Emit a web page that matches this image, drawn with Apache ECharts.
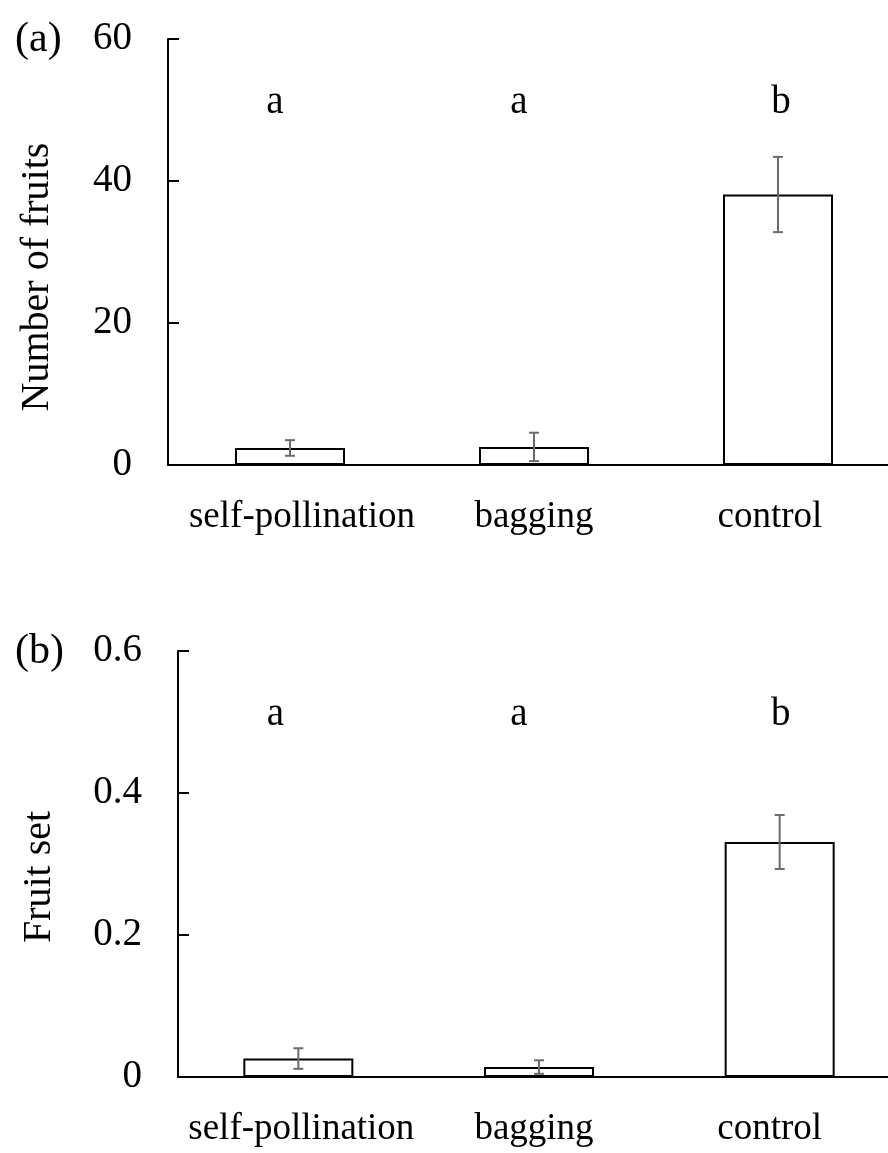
<!DOCTYPE html>
<html>
<head>
<meta charset="utf-8">
<script src="https://cdn.jsdelivr.net/npm/echarts@6/dist/echarts.min.js"></script>
<style>
  html, body { margin: 0; padding: 0; background: #fff; overflow: hidden; }
  /* the plot runs a little past the right edge of the page, as in the original crop */
  #chart { width: 900px; height: 1153px; }
</style>
</head>
<body>
<div id="chart"></div>
<script type="text/javascript">
    // data
    var categories = ['self-pollination', 'bagging', 'control'];
    var fruitsMean = [2.4, 2.55, 38.1];
    var fruitsErr = [1.1, 2.0, 5.3];
    var fruitSetMean = [0.026, 0.014, 0.331];
    var fruitSetErr = [0.0145, 0.0095, 0.038];
    var letters = ['a', 'a', 'b'];
    var fruitsTicks = [0, 20, 40, 60];
    var fruitSetTicks = [0, 0.2, 0.4, 0.6];
    var letterLevel = [51, 0.51];   // height of the a/b letters in each panel

    // small horizontal nudges (px) so texts sit where the original put them
    var labelShift = [[12, 0, -8], [3, -5, -10]];
    var letterShift = [[-15, -15, 3], [-23, -20, 1]];

    var FONT = "'Liberation Serif', 'Times New Roman', serif";
    var chart = echarts.init(document.getElementById('chart'));

    function catData(shift) {
        return categories.map(function (c, i) {
            var s = shift[i];
            return {
                value: c,
                textStyle: { padding: s >= 0 ? [0, 0, 0, 2 * s] : [0, -2 * s, 0, 0] }
            };
        });
    }

    function errorBars(mean, err, gridIdx) {
        return {
            type: 'custom',
            xAxisIndex: gridIdx,
            yAxisIndex: gridIdx,
            z: 5,
            renderItem: function (params, api) {
                var x = api.value(0), m = api.value(1), e = api.value(2);
                var top = api.coord([x, m + e]);
                var bot = api.coord([x, m - e]);
                var hw = 5;
                var st = { stroke: '#6b6b6b', lineWidth: 2 };
                return {
                    type: 'group',
                    children: [
                        { type: 'line', shape: { x1: top[0], y1: top[1], x2: bot[0], y2: bot[1] }, style: st },
                        { type: 'line', shape: { x1: top[0] - hw, y1: top[1], x2: top[0] + hw, y2: top[1] }, style: st },
                        { type: 'line', shape: { x1: bot[0] - hw, y1: bot[1], x2: bot[0] + hw, y2: bot[1] }, style: st }
                    ]
                };
            },
            data: mean.map(function (m, i) { return [i, m, err[i]]; })
        };
    }

    function letterSeries(gridIdx) {
        return {
            type: 'scatter',
            xAxisIndex: gridIdx,
            yAxisIndex: gridIdx,
            symbolSize: 0,
            silent: true,
            itemStyle: { opacity: 1 },
            data: letters.map(function (l, i) {
                return {
                    value: [i, letterLevel[gridIdx]],
                    label: {
                        show: true,
                        position: 'inside',
                        formatter: l,
                        offset: [letterShift[gridIdx][i], 0],
                        color: '#000',
                        fontFamily: FONT,
                        fontSize: 39
                    }
                };
            })
        };
    }

    function yAxisOf(ticks, name, gridIdx, namePad, gap) {
        return {
            type: 'value',
            gridIndex: gridIdx,
            min: ticks[0],
            max: ticks[ticks.length - 1],
            interval: ticks[1] - ticks[0],
            name: name,
            nameLocation: 'middle',
            nameGap: gap,
            nameTextStyle: { color: '#000', fontFamily: FONT, fontSize: 40, padding: [0, namePad, 0, 0] },
            axisLine: { show: true, lineStyle: { color: '#000', width: 2 } },
            axisTick: { show: true, inside: true, length: 11, lineStyle: { color: '#000', width: 2 } },
            axisLabel: { color: '#000', fontFamily: FONT, fontSize: 39, margin: 36 },
            splitLine: { show: false }
        };
    }

    function xAxisOf(gridIdx) {
        return {
            type: 'category',
            gridIndex: gridIdx,
            data: catData(labelShift[gridIdx]),
            axisLine: { show: true, lineStyle: { color: '#000', width: 2 } },
            axisTick: { show: false },
            axisLabel: { color: '#000', fontFamily: FONT, fontSize: 37, margin: 34, interval: 0 }
        };
    }

    function barSeries(mean, gridIdx) {
        return {
            type: 'bar',
            xAxisIndex: gridIdx,
            yAxisIndex: gridIdx,
            barWidth: 110,
            itemStyle: { color: '#fff', borderColor: '#000', borderWidth: 2 },
            data: mean
        };
    }

    var option = {
        backgroundColor: '#fff',
        animation: false,
        title: [
            { text: '(a)', left: 10, top: 14, textStyle: { color: '#000', fontFamily: FONT, fontSize: 42, fontWeight: 'normal' } },
            { text: '(b)', left: 10, top: 626, textStyle: { color: '#000', fontFamily: FONT, fontSize: 42, fontWeight: 'normal' } }
        ],
        grid: [
            { left: 168, top: 39, right: 0, height: 426 },
            { left: 178, top: 651, right: 0, height: 426 }
        ],
        xAxis: [xAxisOf(0), xAxisOf(1)],
        yAxis: [
            yAxisOf(fruitsTicks, 'Number of fruits', 0, 50, 111),
            yAxisOf(fruitSetTicks, 'Fruit set', 1, 26, 119)
        ],
        series: [
            barSeries(fruitsMean, 0),
            errorBars(fruitsMean, fruitsErr, 0),
            letterSeries(0),
            barSeries(fruitSetMean, 1),
            errorBars(fruitSetMean, fruitSetErr, 1),
            letterSeries(1)
        ]
    };

    chart.setOption(option);
</script>
</body>
</html>
